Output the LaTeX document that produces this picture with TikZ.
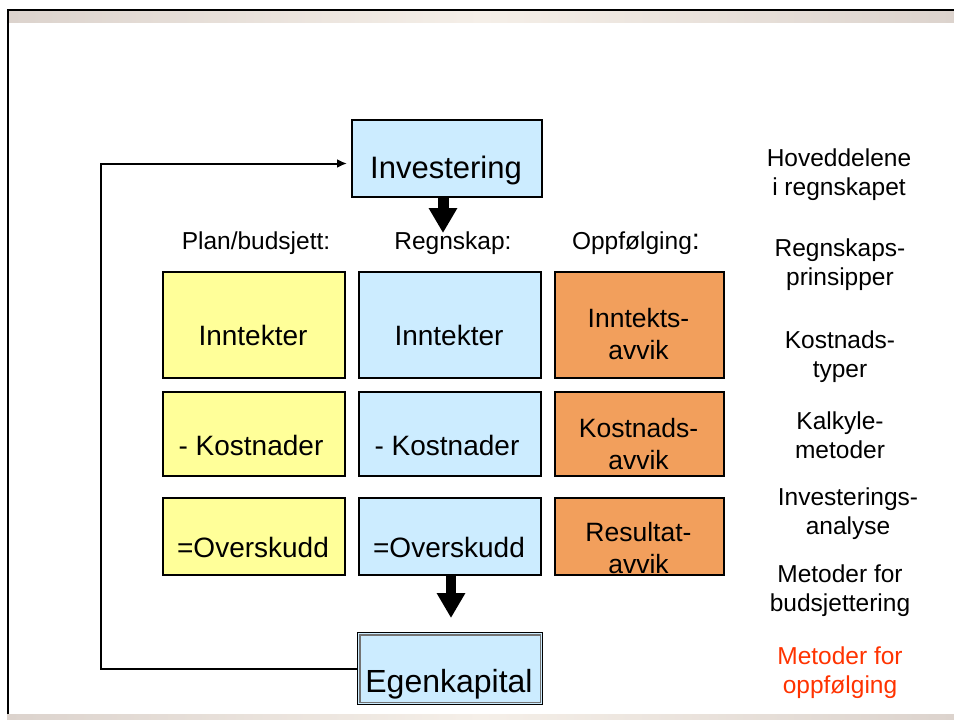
\documentclass[tikz,border=0pt]{standalone}
\usepackage{fontspec}
\setmainfont{Liberation Sans}
\usetikzlibrary{arrows.meta}
\definecolor{yel}{HTML}{FFFF99}
\definecolor{blu}{HTML}{CCECFF}
\definecolor{org}{HTML}{F29F5C}
\definecolor{redt}{HTML}{FF3300}
\definecolor{bge}{HTML}{DCD3CD}
\definecolor{bgl}{HTML}{F5EFE8}
\begin{document}
\begin{tikzpicture}[x=1pt,y=-1pt,
  cell/.style={draw=black, line width=2pt, inner sep=0pt, anchor=north west},
  bigtxt/.style={anchor=base, inner sep=0pt, font=\fontsize{31}{36}\selectfont},
  boxtxt/.style={anchor=base, inner sep=0pt, font=\fontsize{28}{32}\selectfont},
  orgtxt/.style={anchor=base, inner sep=0pt, font=\fontsize{26.5}{32}\selectfont},
  hdrtxt/.style={anchor=base, inner sep=0pt, font=\fontsize{24.5}{29}\selectfont},
  sidetxt/.style={anchor=base, inner sep=0pt, font=\fontsize{24.5}{29}\selectfont},
  fatarrow/.style={line width=#1, -{Triangle[width=27pt,length=25pt]}},
  thinarrow/.style={line width=2pt, -{Latex[length=10pt,width=9pt]}, shorten >=4pt}
]
\useasboundingbox (0,0) rectangle (954,720);
\fill[white] (0,0) rectangle (954,720);
% frame
\shade[left color=bge, right color=bge, middle color=bgl] (9,11) rectangle (954,22.5);
\shade[left color=bge, right color=bge, middle color=bgl] (7,714) rectangle (954,720);
\draw[line width=2.5pt] (8,714) -- (8,10) -- (954,10);

% top and bottom boxes
\node[cell, fill=blu, minimum width=190pt, minimum height=77pt] (inv) at (351,119) {};
\node[bigtxt] (invt) at (446,178) {Investering};
\node[cell, fill=blu, line width=1.3pt, minimum width=185pt, minimum height=72pt] (eg) at (357,632) {};
\draw[black!55, line width=1.3pt] ([shift={(3pt,-3pt)}]eg.north west) rectangle ([shift={(-3pt,3pt)}]eg.south east);
\node[bigtxt, font=\fontsize{32}{36}\selectfont] (egt) at (449,692) {Egenkapital};

% headers
\node[hdrtxt] (h1) at (256,249) {Plan/budsjett:};
\node[hdrtxt] (h2) at (453,249) {Regnskap:};
\node[hdrtxt] (h3) at (636,249) {Oppfølging{\fontsize{29}{29}\selectfont:}};

% plan column
\node[cell, fill=yel, minimum width=182pt, minimum height=106pt] (p1) at (162,271) {};
\node[cell, fill=yel, minimum width=182pt, minimum height=84pt] (p2) at (162,391) {};
\node[cell, fill=yel, minimum width=182pt, minimum height=77pt] (p3) at (162,497) {};
\node[boxtxt] (p1t) at (253,345) {Inntekter};
\node[boxtxt] (p2t) at (251,455) {- Kostnader};
\node[boxtxt] (p3t) at (253,557) {=Overskudd};

% regnskap column
\node[cell, fill=blu, minimum width=182pt, minimum height=106pt] (r1) at (358,271) {};
\node[cell, fill=blu, minimum width=182pt, minimum height=84pt] (r2) at (358,391) {};
\node[cell, fill=blu, minimum width=182pt, minimum height=77pt] (r3) at (358,497) {};
\node[boxtxt] (r1t) at (449,345) {Inntekter};
\node[boxtxt] (r2t) at (447,455) {- Kostnader};
\node[boxtxt] (r3t) at (449,557) {=Overskudd};

% oppfolging column
\node[cell, fill=org, minimum width=169pt, minimum height=106pt] (o1) at (554,271) {};
\node[cell, fill=org, minimum width=169pt, minimum height=84pt] (o2) at (554,391) {};
\node[cell, fill=org, minimum width=169pt, minimum height=77pt] (o3) at (554,497) {};
\node[orgtxt] (o1t) at (638.5,327) {\begin{tabular}[t]{@{}c@{}}Inntekts-\\avvik\end{tabular}};
\node[orgtxt] (o2t) at (638.5,437) {\begin{tabular}[t]{@{}c@{}}Kostnads-\\avvik\end{tabular}};
\node[orgtxt] (o3t) at (638.5,541) {\begin{tabular}[t]{@{}c@{}}Resultat-\\avvik\end{tabular}};

% side list
\node[sidetxt] (s1) at (839,166) {\begin{tabular}[t]{@{}c@{}}Hoveddelene\\i regnskapet\end{tabular}};
\node[sidetxt] (s2) at (840,256) {\begin{tabular}[t]{@{}c@{}}Regnskaps-\\prinsipper\end{tabular}};
\node[sidetxt] (s3) at (840,348) {\begin{tabular}[t]{@{}c@{}}Kostnads-\\typer\end{tabular}};
\node[sidetxt] (s4) at (840,429) {\begin{tabular}[t]{@{}c@{}}Kalkyle-\\metoder\end{tabular}};
\node[sidetxt] (s5) at (848,505) {\begin{tabular}[t]{@{}c@{}}Investerings-\\analyse\end{tabular}};
\node[sidetxt] (s6) at (840,582) {\begin{tabular}[t]{@{}c@{}}Metoder for\\budsjettering\end{tabular}};
\node[sidetxt, text=redt] (s7) at (840,664) {\begin{tabular}[t]{@{}c@{}}Metoder for\\oppfølging\end{tabular}};

% connectors
\coordinate (a1e) at (443,233);
\draw[fatarrow=11pt] (inv.south -| a1e) -- (a1e);
\coordinate (a2e) at (451,618);
\draw[fatarrow=10pt] (r3.south -| a2e) -- (a2e);
\draw[thinarrow] (eg.west) -- ++(-256,0) |- ([yshift=-5pt]inv.west);
\end{tikzpicture}
\end{document}
